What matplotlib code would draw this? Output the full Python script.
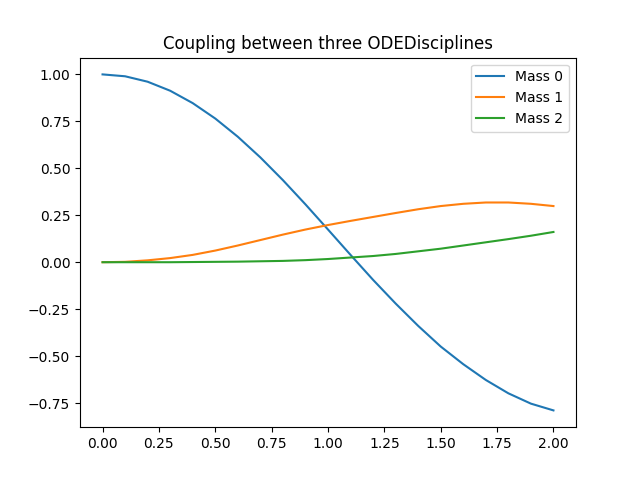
import numpy as np
import matplotlib.pyplot as plt

times = [0.0, 0.1, 0.2, 0.3, 0.4, 0.5, 0.6, 0.7, 0.8, 0.9, 1.0,
         1.1, 1.2, 1.3, 1.4, 1.5, 1.6, 1.7, 1.8, 1.9, 2.0]

mass_0 = [1.000, 0.990, 0.961, 0.913, 0.847, 0.765, 0.668, 0.558, 0.437, 0.308, 0.174,
          0.039, -0.094, -0.220, -0.339, -0.449, -0.543, -0.627, -0.698, -0.753, -0.789]
mass_1 = [0.000, 0.002, 0.010, 0.022, 0.039, 0.062, 0.089, 0.118, 0.147, 0.174, 0.198,
          0.220, 0.241, 0.262, 0.282, 0.299, 0.311, 0.318, 0.318, 0.311, 0.299]
mass_2 = [0.000, 0.000, 0.000, 0.000, 0.001, 0.002, 0.003, 0.005, 0.007, 0.011, 0.017,
          0.025, 0.033, 0.044, 0.058, 0.072, 0.089, 0.106, 0.123, 0.141, 0.161]

positions = [mass_0, mass_1, mass_2]

plt.figure(figsize=(6.4, 4.8), dpi=100)
for i, pos in enumerate(positions):
    plt.plot(times, pos, label=f"Mass {i}")
plt.title("Coupling between three ODEDisciplines")
plt.legend(loc="upper right")
plt.savefig("out.png")
